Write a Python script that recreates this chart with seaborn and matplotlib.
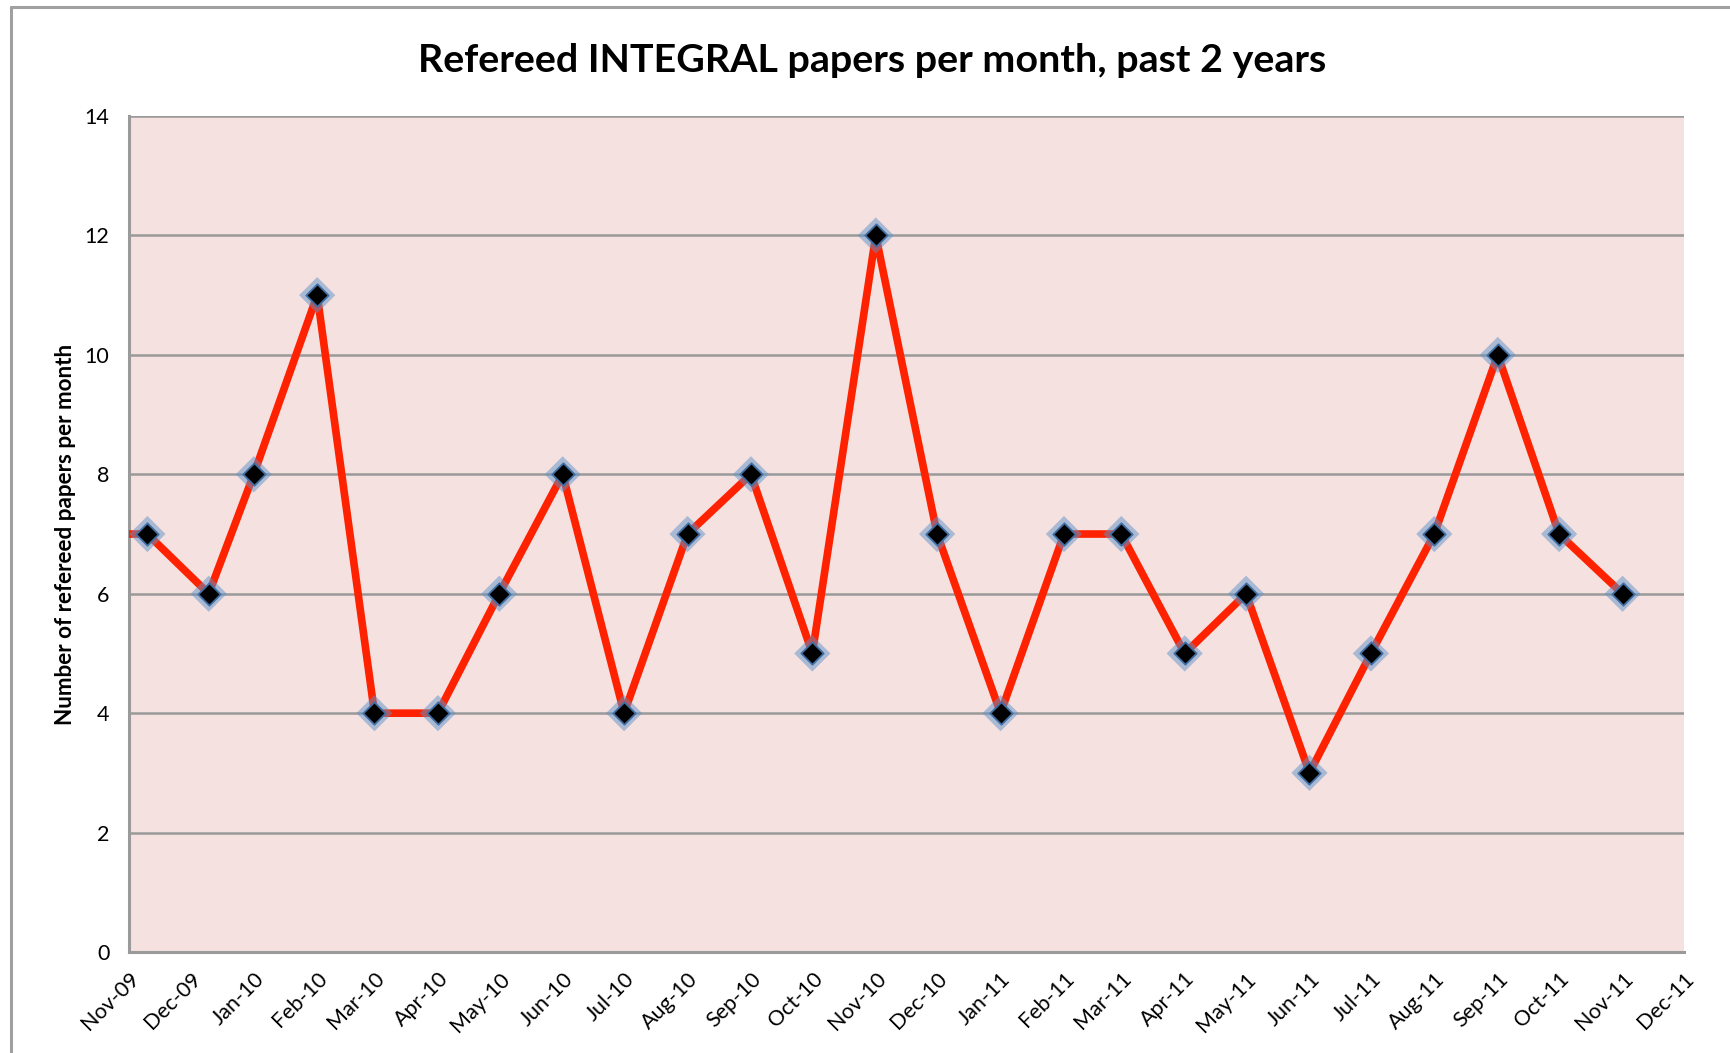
import pandas as pd
import matplotlib.pyplot as plt
import matplotlib.dates as mdates
from matplotlib.lines import Line2D
import seaborn as sns

## data (first point is the lead-in from before the axis start)
dates = ['2009-10-10', '2009-11-10', '2009-12-10',
         '2010-01-01', '2010-02-01', '2010-03-01', '2010-04-01', '2010-05-01', '2010-06-01',
         '2010-07-01', '2010-08-01', '2010-09-01', '2010-10-01', '2010-11-01', '2010-12-01',
         '2011-01-01', '2011-02-01', '2011-03-01', '2011-04-01', '2011-05-01', '2011-06-01',
         '2011-07-01', '2011-08-01', '2011-09-01', '2011-10-01', '2011-11-01']
papers = [7, 7, 6, 8, 11, 4, 4, 6, 8, 4, 7, 8, 5, 12, 7, 4, 7, 7, 5, 6, 3, 5, 7, 10, 7, 6]
x_start = '2009-11-01'
x_end = '2011-12-01'
y_ticks = [0, 2, 4, 6, 8, 10, 12, 14]

df = pd.DataFrame({'date': pd.to_datetime(dates), 'papers': papers})

sns.set_style('white')
plt.rcParams['font.family'] = ['Lato', 'DejaVu Sans']
plt.rcParams['text.color'] = 'black'
plt.rcParams['xtick.color'] = 'black'
plt.rcParams['ytick.color'] = 'black'
plt.rcParams['axes.labelcolor'] = 'black'

fig = plt.figure(figsize=(17.31, 10.53), dpi=100)
ax = fig.add_axes([0.0745, 0.0959, 0.8983, 0.7939])
ax.set_facecolor('#f4e1e0')

# outer chart frame
fig.add_artist(Line2D([11 / 1731, 11 / 1731], [0, 1 - 7 / 1053], transform=fig.transFigure,
                      color='#a0a0a0', lw=2.2))
fig.add_artist(Line2D([11 / 1731, 1], [1 - 7 / 1053, 1 - 7 / 1053], transform=fig.transFigure,
                      color='#a0a0a0', lw=2.2))

sns.lineplot(data=df, x='date', y='papers', ax=ax, color='#ff2200', lw=5.5, zorder=3)
# blue glow under black diamond markers
sns.scatterplot(data=df, x='date', y='papers', ax=ax, marker='D', s=340, color='#5f92c8',
                alpha=0.5, edgecolor='none', zorder=4)
sns.scatterplot(data=df, x='date', y='papers', ax=ax, marker='D', s=130, color='black',
                edgecolor='#3f6fa5', linewidth=1.3, zorder=5)

ax.set_xlim(pd.Timestamp(x_start), pd.Timestamp(x_end))
ax.set_ylim(0, 14)
ax.set_yticks(y_ticks)
ax.xaxis.set_major_locator(mdates.MonthLocator())
ax.xaxis.set_major_formatter(mdates.DateFormatter('%b-%y'))
ax.grid(axis='y', color='#9a9a9a', lw=1.8)
ax.grid(axis='x', visible=False)
ax.set_axisbelow(True)
for s in ['left', 'bottom']:
    ax.spines[s].set_color('#9a9a9a')
    ax.spines[s].set_linewidth(2.2)
for s in ['top', 'right']:
    ax.spines[s].set_visible(False)
ax.tick_params(length=0, labelsize=15.5)
ax.tick_params(axis='y', pad=14)
ax.tick_params(axis='x', pad=12)
plt.setp(ax.get_xticklabels(), rotation=45, ha='right', rotation_mode='anchor')
ax.set_xlabel('')
ax.set_ylabel('Number of refereed papers per month', fontsize=16.2, fontweight='bold', labelpad=6)

fig.text(0.504, 1 - 61 / 1053, 'Refereed INTEGRAL papers per month, past 2 years',
         ha='center', va='center', fontsize=28.4, fontweight='bold')

plt.savefig('out.png', dpi=100)
